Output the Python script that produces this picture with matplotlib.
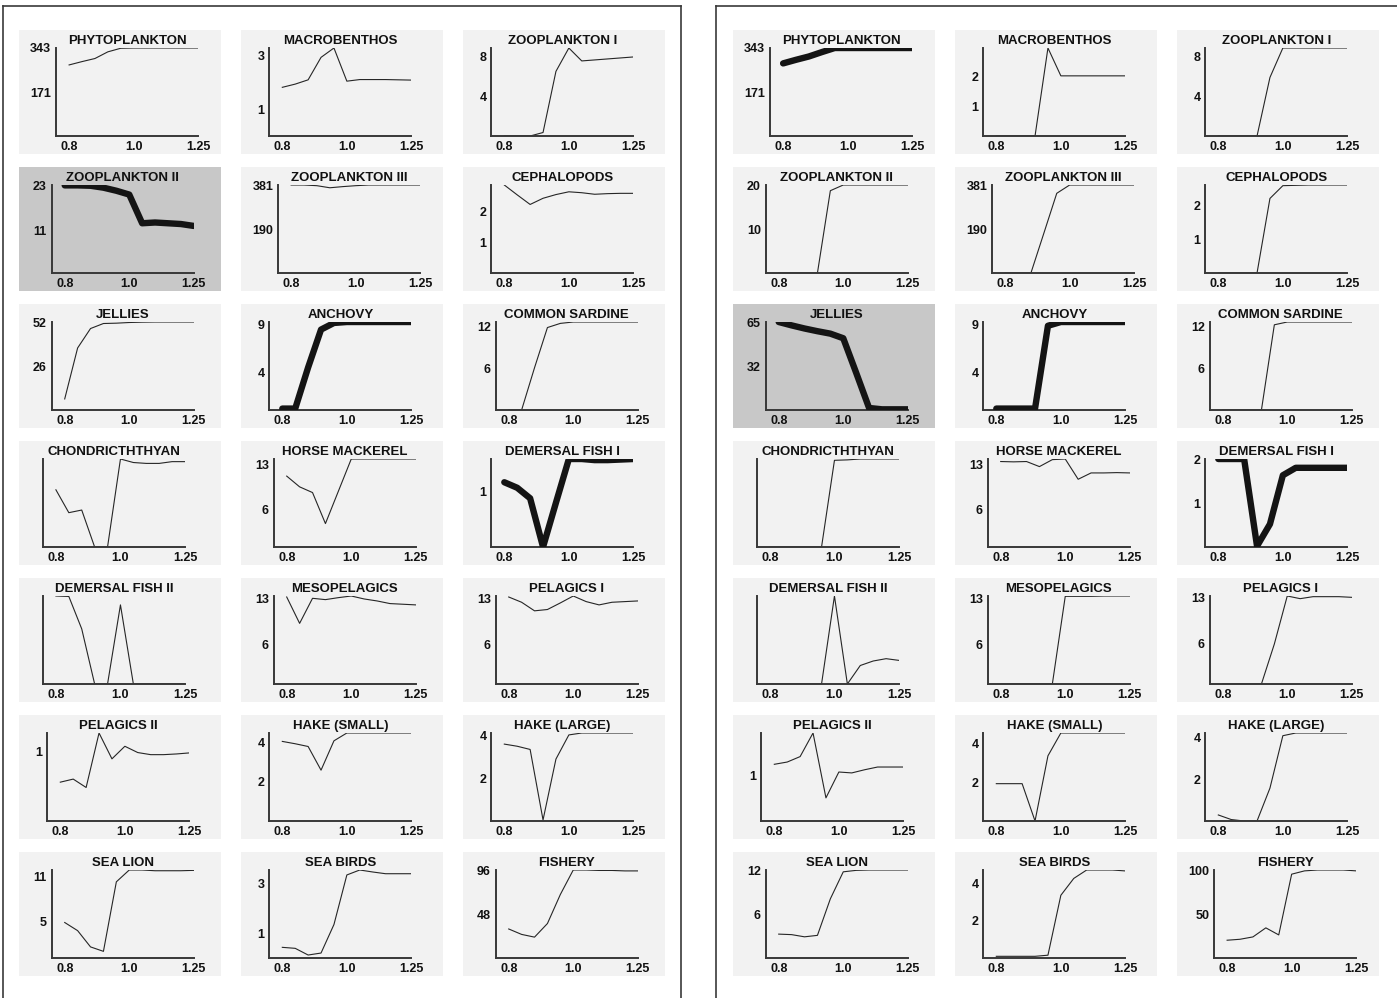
import matplotlib
matplotlib.use('Agg')
import matplotlib.pyplot as plt
from matplotlib.patches import Rectangle
from matplotlib.lines import Line2D
import numpy as np

# ---------------- data ----------------
multipliers = ['0.8', '0.84', '0.88', '0.92', '0.96', '1.0', '1.05', '1.1', '1.15', '1.2', '1.25']
xtick_labels = ['0.8', '1.0', '1.25']

groups = ['PHYTOPLANKTON', 'MACROBENTHOS', 'ZOOPLANKTON I',
          'ZOOPLANKTON II', 'ZOOPLANKTON III', 'CEPHALOPODS',
          'JELLIES', 'ANCHOVY', 'COMMON SARDINE',
          'CHONDRICTHTHYAN', 'HORSE MACKEREL', 'DEMERSAL FISH I',
          'DEMERSAL FISH II', 'MESOPELAGICS', 'PELAGICS I',
          'PELAGICS II', 'HAKE (SMALL)', 'HAKE (LARGE)',
          'SEA LION', 'SEA BIRDS', 'FISHERY']

left_series = [
    [277, 290, 302, 328, 342, 343, 343, 343, 343, 343, 343],
    [1.82, 1.94, 2.10, 2.94, 3.29, 2.05, 2.11, 2.11, 2.11, 2.10, 2.09],
    [0, 0, 0, 0.35, 6.5, 8.85, 7.55, 7.65, 7.75, 7.85, 7.95],
    [22.9, 22.9, 22.8, 22.3, 21.5, 20.5, 13.0, 13.2, 13.0, 12.8, 12.3],
    [381, 381, 378, 369, 374, 378, 381, 381, 381, 381, 381],
    [2.85, 2.53, 2.22, 2.42, 2.54, 2.63, 2.60, 2.55, 2.57, 2.58, 2.58],
    [6.6, 37, 48.6, 51.6, 51.8, 52.2, 52.4, 52.5, 52.5, 52.5, 52.5],
    [0.15, 0.15, 4.5, 8.5, 9.2, 9.3, 9.3, 9.3, 9.3, 9.3, 9.3],
    [0, 0, 6.1, 11.9, 12.5, 12.7, 12.7, 12.7, 12.7, 12.7, 12.7],
    [0.65, 0.39, 0.42, 0, 0, 1.0, 0.96, 0.95, 0.95, 0.97, 0.97],
    [11.2, 9.5, 8.6, 3.7, 8.8, 13.9, 13.9, 13.9, 13.9, 13.9, 13.9],
    [1.17, 1.07, 0.88, 0.0, 0.8, 1.59, 1.59, 1.57, 1.57, 1.58, 1.59],
    [0.99, 0.985, 0.62, 0, 0, 0.89, 0, 0, 0, 0, 0],
    [13.2, 9.2, 13.0, 12.8, 13.1, 13.35, 12.9, 12.6, 12.2, 12.1, 12.0],
    [13.2, 12.4, 11.1, 11.3, 12.3, 13.35, 12.5, 12.0, 12.4, 12.5, 12.6],
    [0.556, 0.60, 0.48, 1.26, 0.89, 1.07, 0.98, 0.95, 0.95, 0.96, 0.975],
    [4.07, 3.95, 3.81, 2.6, 4.1, 4.5, 4.5, 4.5, 4.5, 4.5, 4.5],
    [3.6, 3.5, 3.35, 0.05, 2.9, 4.03, 4.12, 4.12, 4.12, 4.12, 4.12],
    [4.8, 3.7, 1.5, 0.9, 10.3, 11.9, 11.9, 11.8, 11.8, 11.8, 11.85],
    [0.43, 0.39, 0.12, 0.2, 1.35, 3.35, 3.55, 3.47, 3.4, 3.4, 3.4],
    [32, 26, 23, 38, 70, 97, 97, 96.5, 96.5, 96, 96],
]
left_yticks = [[171, 343], [1, 3], [4, 8], [11, 23], [190, 381], [1, 2],
               [26, 52], [4, 9], [6, 12], [], [6, 13], [1],
               [], [6, 13], [6, 13], [1], [2, 4], [2, 4],
               [5, 11], [1, 3], [48, 96]]
left_thick = [3, 7, 11]
left_highlight = 3

right_series = [
    [283, 297, 310, 327, 343, 343, 343, 343, 343, 343, 343],
    [0, 0, 0, 0, 2.97, 2.03, 2.03, 2.03, 2.03, 2.03, 2.03],
    [0, 0, 0, 0, 5.9, 8.87, 8.87, 8.87, 8.87, 8.87, 8.87],
    [0, 0, 0, 0, 18.8, 20.1, 20.1, 20.1, 20.1, 20.1, 20.1],
    [0, 0, 0, 172, 345, 381, 381, 381, 381, 381, 381],
    [0, 0, 0, 0, 2.22, 2.6, 2.61, 2.62, 2.62, 2.62, 2.62],
    [65, 62.5, 60.2, 58.2, 56.4, 53, 27.5, 1.5, 0.5, 0.5, 0.5],
    [0.15, 0.15, 0.15, 0.15, 8.9, 9.3, 9.3, 9.3, 9.3, 9.3, 9.3],
    [0, 0, 0, 0, 12.2, 12.6, 12.6, 12.6, 12.6, 12.6, 12.6],
    [0, 0, 0, 0, 0, 0.985, 0.99, 1.0, 1.0, 1.0, 1.0],
    [13.5, 13.45, 13.5, 12.7, 13.8, 13.9, 10.7, 11.7, 11.7, 11.75, 11.7],
    [2.0, 2.0, 2.0, 0.02, 0.52, 1.63, 1.8, 1.8, 1.8, 1.8, 1.8],
    [0, 0, 0, 0, 0, 0.98, 0, 0.206, 0.256, 0.282, 0.263],
    [0, 0, 0, 0, 0, 13.3, 13.3, 13.3, 13.35, 13.35, 13.35],
    [0, 0, 0, 0, 6.0, 13.2, 12.8, 13.1, 13.1, 13.1, 13.0],
    [1.25, 1.30, 1.42, 1.94, 0.51, 1.08, 1.06, 1.13, 1.19, 1.19, 1.19],
    [1.93, 1.93, 1.93, 0, 3.37, 4.55, 4.55, 4.55, 4.55, 4.55, 4.55],
    [0.29, 0.07, 0, 0, 1.58, 4.1, 4.23, 4.23, 4.23, 4.23, 4.23],
    [3.27, 3.2, 2.9, 3.1, 8.1, 11.8, 12.0, 12.05, 12.05, 12.05, 12.05],
    [0.09, 0.09, 0.09, 0.09, 0.15, 3.35, 4.25, 4.7, 4.7, 4.7, 4.65],
    [20.4, 21.5, 24.2, 34.6, 26.5, 96.2, 100, 101, 101, 101, 100],
]
right_yticks = [[171, 343], [1, 2], [4, 8], [10, 20], [190, 381], [1, 2],
                [32, 65], [4, 9], [6, 12], [], [6, 13], [1, 2],
                [], [6, 13], [6, 13], [1], [2, 4], [2, 4],
                [6, 12], [2, 4], [50, 100]]
right_thick = [0, 6, 7, 11]
right_highlight = 6

# ---------------- layout ----------------
W, H = 1397, 998
plt.rcParams['font.family'] = ['Liberation Sans', 'DejaVu Sans']
fig = plt.figure(figsize=(W / 100, H / 100), dpi=100)
fig.patch.set_facecolor('white')

def fx(x):
    return x / W

def fy(y):
    return 1 - y / H

frame_col = '#3a3a3a'
# panel frames
fig.add_artist(Line2D([fx(3), fx(3)], [fy(998), fy(6)], color=frame_col, lw=1.2))
fig.add_artist(Line2D([fx(3), fx(681)], [fy(6), fy(6)], color=frame_col, lw=1.2))
fig.add_artist(Line2D([fx(681), fx(681)], [fy(6), fy(998)], color=frame_col, lw=1.2))
fig.add_artist(Line2D([fx(716), fx(716)], [fy(998), fy(6)], color=frame_col, lw=1.2))
fig.add_artist(Line2D([fx(716), fx(1397)], [fy(6), fy(6)], color=frame_col, lw=1.2))

panels = [
    (19, left_series, left_yticks, left_thick, left_highlight),
    (733, right_series, right_yticks, right_thick, right_highlight),
]

box_w, box_h = 202, 124
col_pitch, row_pitch = 222, 137
top0 = 30
ax_w = 142
xpos = np.arange(len(multipliers))
xtick_pos = [multipliers.index(t) for t in xtick_labels]
line_col = '#262626'
spine_col = '#383838'

for px0, series, yticks, thick, hl in panels:
    for i, name in enumerate(groups):
        r, c = divmod(i, 3)
        bx = px0 + c * col_pitch
        by = top0 + r * row_pitch
        bg = '#c8c8c8' if i == hl else '#f2f2f2'
        fig.add_artist(Rectangle((fx(bx), fy(by + box_h)), box_w / W, box_h / H,
                                 transform=fig.transFigure, facecolor=bg,
                                 edgecolor='none', zorder=0))
        ticks = yticks[i]
        nch = max([len(str(t)) for t in ticks], default=0)
        ax_left = bx + 24 + 4.4 * nch
        ax_top = by + 18
        ax_bot = by + 106
        ax = fig.add_axes([fx(ax_left), fy(ax_bot), ax_w / W, (ax_bot - ax_top) / H])
        ax.set_facecolor('none')
        vals = series[i]
        is_thick = i in thick
        if is_thick:
            ax.plot(xpos, vals, color='#141414', lw=4.6, solid_joinstyle='round',
                    solid_capstyle='round', zorder=3)
        else:
            ax.plot(xpos, vals, color=line_col, lw=0.8, zorder=1)
        ax.set_xlim(-1, 10)
        ax.set_ylim(0, max(vals))
        ax.set_xticks(xtick_pos)
        ax.set_xticklabels(xtick_labels)
        ax.set_yticks(ticks)
        ax.set_yticklabels([str(t) for t in ticks])
        for s in ['top', 'right']:
            ax.spines[s].set_visible(False)
        for s in ['left', 'bottom']:
            ax.spines[s].set_color(spine_col)
            ax.spines[s].set_linewidth(1.4)
            ax.spines[s].set_zorder(2.5)
        ax.tick_params(length=0, labelsize=9, pad=3.5, colors='#111111')
        for lab in ax.get_xticklabels() + ax.get_yticklabels():
            lab.set_fontweight('bold')
        ax.set_title(name, fontsize=9.5, fontweight='bold', pad=3, color='#111111')

fig.savefig('out.png', dpi=100, facecolor='white')
